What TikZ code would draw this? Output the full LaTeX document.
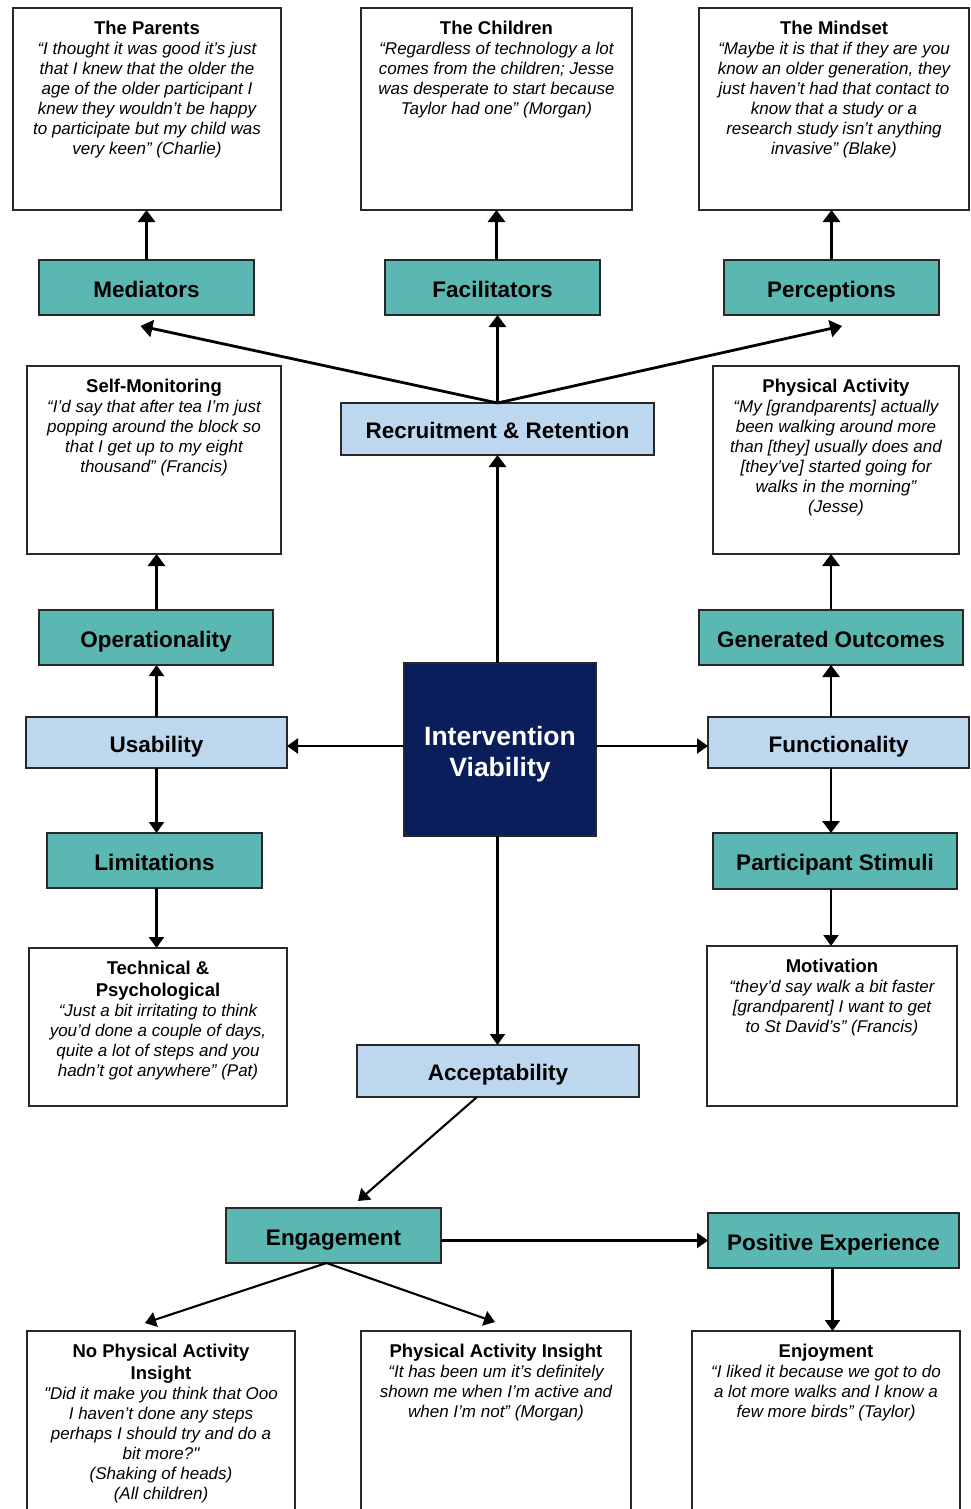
\documentclass[tikz,border=0pt]{standalone}
\usepackage{fontspec}
\setmainfont{Liberation Sans}
\newfontfamily\sqfont[Ligatures=TeXOff]{Liberation Sans}
\usetikzlibrary{arrows.meta}
\definecolor{tealfill}{RGB}{91,183,178}
\definecolor{lbluefill}{RGB}{189,215,238}
\definecolor{navyfill}{RGB}{10,30,92}
\definecolor{edgecol}{RGB}{40,40,40}
\newcommand{\ttl}[1]{{\fontsize{18.5}{20}\selectfont\bfseries\upshape #1}}
\newcommand{\sq}{{\sqfont\itshape "}}
\begin{document}
\begin{tikzpicture}[x=1pt,y=-1pt,
  basebox/.style={draw=edgecol, line width=1.8pt, inner sep=0pt, outer sep=0pt},
  qbox/.style={basebox, fill=white},
  tbox/.style={basebox, fill=tealfill, font=\fontsize{22.5}{26}\selectfont\bfseries, text height=21pt, text depth=2pt},
  bbox/.style={basebox, fill=lbluefill, font=\fontsize{22.5}{26}\selectfont\bfseries, text height=21pt, text depth=2pt},
  qtext/.style={anchor=north, inner sep=0pt, align=center, font=\fontsize{17}{20}\selectfont\itshape, yshift=-13pt},
  arr/.style={-{Triangle[width=15pt,length=11pt]}, line width=2.1pt, draw=black},
  thickarr/.style={-{Triangle[width=17pt,length=12pt]}, line width=2.8pt, draw=black}]
\clip (0,0) rectangle (971,1509);
\fill[white] (0,0) rectangle (971,1509);

% top quote boxes
\node[qbox, minimum width=268, minimum height=202] (parents) at (147,109) {};
\node[qtext] (parentsT) at (parents.north) {\ttl{The Parents}\\
“I thought it was good it’s just\\
that I knew that the older the\\
age of the older participant I\\
knew they wouldn’t be happy\\
to participate but my child was\\
very keen” (Charlie)};

\node[qbox, minimum width=271, minimum height=202] (children) at (496.5,109) {};
\node[qtext] (childrenT) at (children.north) {\ttl{The Children}\\
“Regardless of technology a lot\\
comes from the children; Jesse\\
was desperate to start because\\
Taylor had one” (Morgan)};

\node[qbox, minimum width=270, minimum height=202] (mindset) at (834,109) {};
\node[qtext] (mindsetT) at (mindset.north) {\ttl{The Mindset}\\
“Maybe it is that if they are you\\
know an older generation, they\\
just haven’t had that contact to\\
know that a study or a\\
research study isn’t anything\\
invasive” (Blake)};

% teal row 1
\node[tbox, minimum width=215, minimum height=55] (med) at (146.5,287.5) {Mediators};
\node[tbox, minimum width=215, minimum height=55] (fac) at (492.5,287.5) {Facilitators};
\node[tbox, minimum width=215, minimum height=55] (perc) at (831.5,287.5) {Perceptions};

% recruitment
\node[bbox, minimum width=313, minimum height=52] (rec) at (497.5,429) {Recruitment \& Retention};

% second quote row
\node[qbox, minimum width=254, minimum height=188] (selfmon) at (154,460) {};
\node[qtext] (selfmonT) at (selfmon.north) {\ttl{Self-Monitoring}\\
“I’d say that after tea I’m just\\
popping around the block so\\
that I get up to my eight\\
thousand” (Francis)};

\node[qbox, minimum width=246, minimum height=188] (pa) at (836,460) {};
\node[qtext] (paT) at (pa.north) {\ttl{Physical Activity}\\
“My [grandparents] actually\\
been walking around more\\
than [they] usually does and\\\relax
[they’ve] started going for\\
walks in the morning”\\
(Jesse)};

\node[tbox, minimum width=234, minimum height=55] (oper) at (156,637.5) {Operationality};
\node[tbox, minimum width=264, minimum height=55] (gen) at (831,637.5) {Generated Outcomes};

\node[bbox, minimum width=261, minimum height=51] (usab) at (156.5,742.5) {Usability};
\node[bbox, minimum width=261, minimum height=51] (func) at (838.5,742.5) {Functionality};

\node[basebox, fill=navyfill, minimum width=192, minimum height=173] (iv) at (500,749.5) {};
\node[text=white, align=center, inner sep=0pt, font=\fontsize{26.5}{31}\selectfont\bfseries]
  (ivT) at ([yshift=-5pt]iv.center) {Intervention\\Viability};

\node[tbox, minimum width=215, minimum height=55] (lim) at (154.5,860.5) {Limitations};
\node[tbox, minimum width=244, minimum height=56] (ps) at (835,861) {Participant Stimuli};

\node[qbox, minimum width=258, minimum height=158] (tech) at (158,1027) {};
\node[qtext] (techT) at (tech.north) {\ttl{Technical \&}\\[2pt]
\ttl{Psychological}\\
“Just a bit irritating to think\\
you’d done a couple of days,\\
quite a lot of steps and you\\
hadn’t got anywhere” (Pat)};

\node[qbox, minimum width=250, minimum height=160] (mot) at (832,1026) {};
\node[qtext] (motT) at (mot.north) {\ttl{Motivation}\\
“they’d say walk a bit faster\\\relax
[grandparent] I want to get\\
to St David’s” (Francis)};

\node[bbox, minimum width=282, minimum height=52] (acc) at (498,1071) {Acceptability};

\node[tbox, minimum width=215, minimum height=55] (eng) at (333.5,1235.5) {Engagement};
\node[tbox, minimum width=251, minimum height=55] (pos) at (833.5,1240.5) {Positive Experience};

% bottom quote boxes (run off the page)
\node[qbox, minimum width=268, minimum height=199] (nopa) at (161,1430.5) {};
\node[qtext] (nopaT) at (nopa.north) {\ttl{No Physical Activity}\\[2pt]
\ttl{Insight}\\
\sq Did it make you think that Ooo\\
I haven’t done any steps\\
perhaps I should try and do a\\
bit more?\sq\\
(Shaking of heads)\\
(All children)};

\node[qbox, minimum width=270, minimum height=199] (pai) at (496,1430.5) {};
\node[qtext] (paiT) at (pai.north) {\ttl{Physical Activity Insight}\\
“It has been um it’s definitely\\
shown me when I’m active and\\
when I’m not” (Morgan)};

\node[qbox, minimum width=268, minimum height=199] (enj) at (826,1430.5) {};
\node[qtext] (enjT) at (enj.north) {\ttl{Enjoyment}\\
“I liked it because we got to do\\
a lot more walks and I know a\\
few more birds” (Taylor)};

% connectors
\draw[thickarr] (med.north) -- (med.north |- parents.south);
\draw[thickarr] (children.south |- fac.north) -- (children.south);
\draw[thickarr] (perc.north) -- (perc.north |- mindset.south);

\draw[thickarr] (rec.north) -- ([xshift=-6pt,yshift=-11pt]med.south);
\draw[thickarr] (rec.north) -- (rec.north |- fac.south);
\draw[thickarr] (rec.north) -- ([xshift=10.5pt,yshift=-11pt]perc.south);

\draw[thickarr] (rec.south |- iv.north) -- (rec.south);

\draw[arr] ([yshift=3.5pt]iv.west) -- ([yshift=3.5pt]iv.west -| usab.east);
\draw[arr] ([yshift=3.5pt]iv.east) -- ([yshift=3.5pt]iv.east -| func.west);

\draw[arr] (usab.north) -- (usab.north |- oper.south);
\draw[thickarr] (usab.north |- oper.north) -- (usab.north |- selfmon.south);
\draw[arr] (usab.south) -- (usab.south |- lim.north);
\draw[arr] (usab.south |- lim.south) -- (usab.south |- tech.north);

\draw[thickarr] (gen.south |- func.north) -- (gen.south);
\draw[thickarr] (gen.north) -- (gen.north |- pa.south);
\draw[thickarr] (gen.south |- func.south) -- (gen.south |- ps.north);
\draw[arr] (gen.south |- ps.south) -- (gen.south |- mot.north);

\draw[arr] (rec.south |- iv.south) -- (rec.south |- acc.north);
\draw[arr] ([xshift=-21pt]acc.south) -- ([xshift=24.5pt,yshift=7pt]eng.north);

\draw[arr] ([xshift=-7pt]eng.south) -- ([xshift=-16pt,yshift=8pt]nopa.north);
\draw[arr] ([xshift=-7pt]eng.south) -- ([xshift=-1pt,yshift=9pt]pai.north);
\draw[arr] (eng.east |- pos.west) -- (pos.west);
\draw[arr] ([xshift=-1pt]pos.south) -- ([xshift=-1pt]pos.south |- enj.north);
\end{tikzpicture}
\end{document}
